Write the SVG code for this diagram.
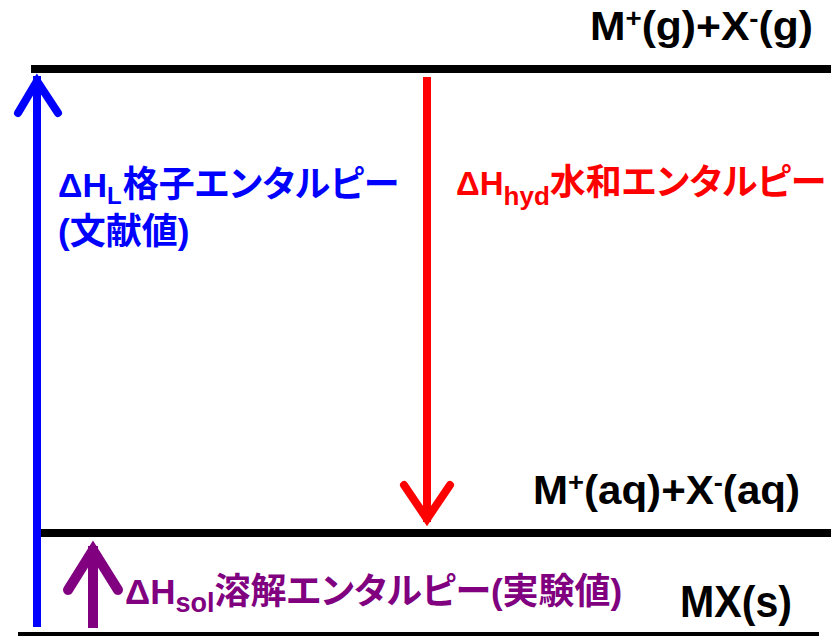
<svg xmlns="http://www.w3.org/2000/svg" width="831" height="636" viewBox="0 0 831 636">
<style>
.lvl{stroke:#000;stroke-width:8;fill:none}
.lat{font-family:"Liberation Sans",Arial,"Noto Sans CJK JP",sans-serif;font-weight:bold}
.cjk{font-family:"Noto Sans CJK JP","Liberation Sans",sans-serif;font-weight:bold;font-feature-settings:"palt"}
.arr{fill:none;stroke-linecap:round;stroke-linejoin:miter;stroke-miterlimit:10}
</style>
<rect width="831" height="636" fill="#fff"/>
<g id="level-gas">
<line class="lvl" x1="31" y1="69" x2="831" y2="69"/>
<text class="lat" x="590" y="40" font-size="40" textLength="223" lengthAdjust="spacingAndGlyphs">M<tspan font-size="26" dy="-13">+</tspan><tspan dy="13">(g)+X</tspan><tspan font-size="26" dy="-13">-</tspan><tspan dy="13">(g)</tspan></text>
</g>
<g id="level-aq">
<line class="lvl" x1="40" y1="533" x2="831" y2="533"/>
<text class="lat" x="533" y="504" font-size="40" textLength="267" lengthAdjust="spacingAndGlyphs">M<tspan font-size="26" dy="-13">+</tspan><tspan dy="13">(aq)+X</tspan><tspan font-size="26" dy="-13">-</tspan><tspan dy="13">(aq)</tspan></text>
</g>
<g id="level-solid">
<line class="lvl" x1="18" y1="636" x2="819" y2="636"/>
<text class="lat" x="680" y="617" font-size="44" textLength="112" lengthAdjust="spacingAndGlyphs">MX(s)</text>
</g>
<g id="connectors">
<g id="arrow-lattice" stroke="#0000ff" stroke-width="8">
<line x1="37" y1="627" x2="37" y2="76"/>
<path class="arr" d="M18,113 L37,81 L58,113"/>
</g>
<g id="arrow-hydration" stroke="#ff0000" stroke-width="8">
<line x1="427" y1="77" x2="427" y2="522"/>
<path class="arr" d="M404,485 L427,519 L450,485"/>
</g>
<g id="arrow-solution" stroke="#800080" stroke-width="10">
<line x1="93" y1="628" x2="93" y2="546"/>
<path class="arr" d="M68,590 L93,550 L118,590"/>
</g>
</g>
<g id="label-lattice" fill="#0000ff">
<text class="lat" x="58" y="197" font-size="34">ΔH<tspan font-size="24" dy="7">L</tspan><tspan class="cjk" font-size="36" dx="1" dy="-7">格子エンタルピー</tspan></text>
<text class="lat" x="58" y="244" font-size="35">(<tspan class="cjk" font-size="36">文献値</tspan>)</text>
</g>
<g id="label-hydration" fill="#ff0000">
<text class="lat" x="456" y="195" font-size="33">ΔH<tspan font-size="26" dy="10">hyd</tspan><tspan class="cjk" font-size="36" dy="-10">水和エンタルピー</tspan></text>
</g>
<g id="label-solution" fill="#800080">
<text class="lat" x="125" y="604" font-size="35">ΔH<tspan font-size="27" dy="8">sol</tspan><tspan class="cjk" font-size="36" dy="-8">溶解エンタルピー</tspan>(<tspan class="cjk" font-size="36">実験値</tspan>)</text>
</g>
</svg>
